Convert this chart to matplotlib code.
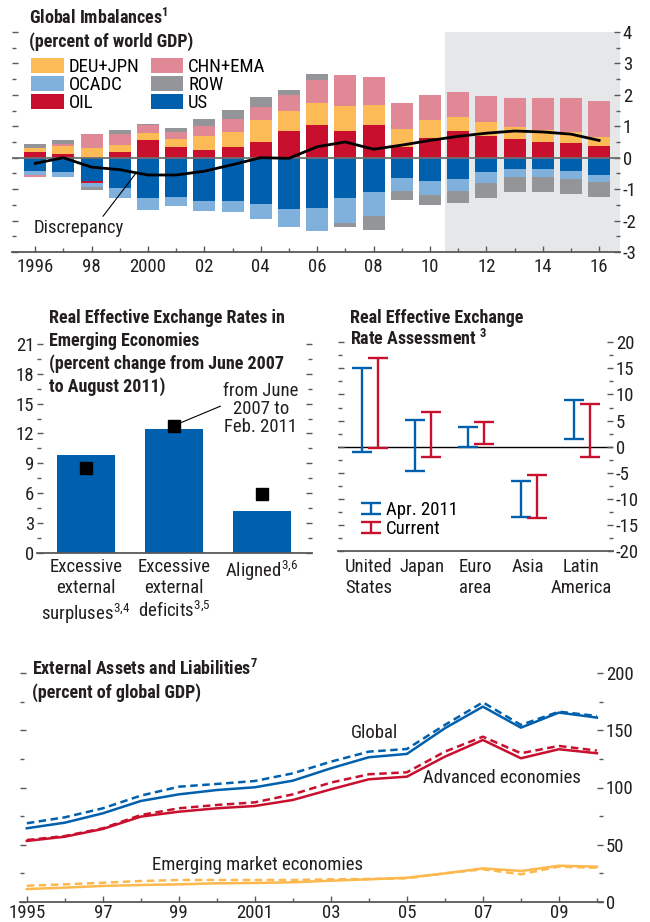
import numpy as np
import matplotlib
matplotlib.use("Agg")
import matplotlib.pyplot as plt
from matplotlib import font_manager
from matplotlib.container import ErrorbarContainer
from matplotlib.legend_handler import HandlerErrorbar
from matplotlib.ticker import MultipleLocator

# fuente: se busca una condensada, si no hay se usa Liberation Sans
available = {f.name for f in font_manager.fontManager.ttflist}
font = 'Liberation Sans'
fs, fs_title = 12, 11.4
for cand, a, b in [('Liberation Sans Narrow', 13.5, 13.5),
                   ('DejaVu Sans Condensed', 12, 11.5),
                   ('Roboto Condensed', 13.5, 13)]:
    if cand in available:
        font, fs, fs_title = cand, a, b
        break

plt.rcParams['font.family'] = [font, 'DejaVu Sans']
plt.rcParams['axes.unicode_minus'] = False
plt.rcParams['mathtext.fontset'] = 'custom'
plt.rcParams['mathtext.rm'] = font
plt.rcParams['mathtext.bf'] = font + ':bold'

# colores
c_us = '#0060ae'
c_ocadc = '#7fb1dc'
c_oil = '#c8102e'
c_deu = '#fdbb58'
c_chn = '#e08896'
c_row = '#939598'
c_orange = '#fdb94e'
c_shade = '#e6e7e8'
c_axis = '#58595b'
c_text = '#231f20'

# ---- Global imbalances (percent of world GDP) ----
years = list(range(1996, 2017))
year_ticks = [1996, 1998, 2000, 2002, 2004, 2006, 2008, 2010, 2012, 2014, 2016]
year_labels = ['1996', '98', '2000', '02', '04', '06', '08', '10', '12', '14', '16']
us = [-0.42, -0.47, -0.75, -0.97, -1.29, -1.26, -1.39, -1.39, -1.48, -1.64, -1.61,
      -1.29, -1.10, -0.66, -0.75, -0.69, -0.47, -0.37, -0.37, -0.43, -0.56]
oil = [0.17, 0.11, -0.06, 0.17, 0.55, 0.33, 0.23, 0.33, 0.49, 0.84, 1.03,
       0.84, 1.03, 0.33, 0.62, 0.84, 0.68, 0.58, 0.49, 0.46, 0.36]
ocadc = [-0.14, -0.13, -0.13, -0.32, -0.38, -0.29, -0.29, -0.35, -0.48, -0.57, -0.72,
         -0.80, -0.76, -0.41, -0.45, -0.38, -0.32, -0.25, -0.25, -0.25, -0.22]
deu_jpn = [0.13, 0.27, 0.30, 0.25, 0.25, 0.25, 0.45, 0.48, 0.70, 0.64, 0.70,
           0.80, 0.64, 0.57, 0.57, 0.45, 0.45, 0.41, 0.38, 0.35, 0.29]
chn_ema = [-0.06, 0.07, 0.45, 0.32, 0.25, 0.25, 0.32, 0.41, 0.41, 0.51, 0.73,
           0.99, 0.89, 0.83, 0.80, 0.80, 0.83, 0.92, 1.02, 1.08, 1.15]
row = [0.13, 0.11, -0.10, 0.13, 0.03, 0.13, 0.22, 0.29, 0.32, 0.16, 0.19,
       -0.10, -0.45, -0.29, -0.29, -0.38, -0.48, -0.48, -0.48, -0.48, -0.48]
discrepancy = [-0.18, 0.0, -0.30, -0.38, -0.55, -0.55, -0.43, -0.22, 0.0, -0.02, 0.35,
               0.50, 0.27, 0.40, 0.55, 0.68, 0.78, 0.85, 0.82, 0.75, 0.55]

# ---- REER in emerging economies ----
reer_groups = ['Excessive\nexternal\nsurpluses$^{3{,}4}$',
               'Excessive\nexternal\ndeficits$^{3{,}5}$',
               'Aligned$^{3{,}6}$']
reer_aug2011 = [9.86, 12.48, 4.23]
reer_feb2011 = [8.56, 12.75, 5.87]

# ---- REER assessment ----
regions = ['United\nStates', 'Japan', 'Euro\narea', 'Asia', 'Latin\nAmerica']
apr_low = [-1.0, -4.6, -0.1, -13.4, 1.5]
apr_high = [15.0, 5.1, 3.8, -6.6, 8.9]
cur_low = [-0.3, -1.9, 0.6, -13.7, -1.9]
cur_high = [16.9, 6.7, 4.8, -5.4, 8.1]

# ---- External assets and liabilities (percent of global GDP) ----
ea_years = list(range(1995, 2011))
ea_ticks = [1995, 1997, 1999, 2001, 2003, 2005, 2007, 2009]
ea_labels = ['1995', '97', '99', '2001', '03', '05', '07', '09']
global_solid = [64.3, 69.2, 77.4, 88.2, 94.0, 97.8, 100.2, 106.0, 116.8,
                126.5, 129.4, 151.9, 170.8, 152.4, 165.6, 161.2]
global_dashed = [68.7, 73.9, 81.8, 92.9, 100.7, 103.1, 105.7, 112.4, 122.6,
                 131.4, 133.7, 154.8, 174.6, 154.8, 166.4, 162.6]
adv_solid = [53.2, 56.9, 63.7, 74.5, 78.8, 81.8, 83.8, 89.1, 98.4,
             107.2, 109.5, 127.0, 141.6, 125.6, 133.5, 130.0]
adv_dashed = [54.0, 57.5, 64.3, 75.9, 81.8, 84.7, 87.0, 94.0, 104.3,
              111.6, 113.3, 131.4, 144.5, 130.0, 136.4, 132.3]
em_solid = [11.1, 12.3, 13.8, 14.6, 15.2, 16.1, 16.4, 17.0, 18.4,
            19.6, 21.0, 24.8, 29.2, 26.9, 31.5, 30.7]
em_dashed = [14.0, 15.2, 16.6, 18.1, 19.0, 19.0, 19.0, 19.0, 19.6,
             19.9, 20.5, 24.8, 28.4, 24.0, 30.7, 29.8]

W, H = 650, 922
fig = plt.figure(figsize=(W / 100, H / 100), dpi=100)


def box(left, top, right, bottom):
    # posicion de un eje en pixeles de la figura
    return [left / W, 1 - bottom / H, (right - left) / W, (bottom - top) / H]


def fig_text(x, y, s, **kw):
    fig.text(x / W, 1 - y / H, s, **kw)


def style(ax, labelleft=False, labelright=True):
    for s in ['left', 'right', 'top']:
        ax.spines[s].set_visible(False)
    ax.spines['bottom'].set_color(c_axis)
    ax.spines['bottom'].set_linewidth(1.3)
    ax.tick_params(axis='both', which='both', direction='in', color=c_axis,
                   labelcolor=c_text, labelsize=fs, width=1)
    ax.tick_params(axis='y', which='both', left=True, right=True,
                   labelleft=labelleft, labelright=labelright, pad=2)
    ax.tick_params(which='major', length=4.5)
    ax.tick_params(which='minor', length=3)
    ax.tick_params(axis='x', top=False, pad=4)


title_kw = dict(fontsize=fs_title, fontweight='bold', color=c_text, va='center', ha='left')

# ================= panel 1 =================
ax1 = fig.add_axes(box(12, 32, 620, 252))
ax1.set_xlim(1995.18, 2016.74)
ax1.set_ylim(-3, 4)
ax1.axvspan(2010.54, 2016.74, color=c_shade, lw=0, zorder=0)

stack = [(us, 'US', c_us), (oil, 'OIL', c_oil), (ocadc, 'OCADC', c_ocadc),
         (deu_jpn, 'DEU+JPN', c_deu), (chn_ema, 'CHN+EMA', c_chn), (row, 'ROW', c_row)]
pos = np.zeros(len(years))
neg = np.zeros(len(years))
bars = {}
for vals, name, col in stack:
    v = np.array(vals)
    base = np.where(v >= 0, pos, neg)
    bars[name] = ax1.bar(years, v, 0.78, bottom=base, color=col, lw=0, zorder=2)
    pos += np.clip(v, 0, None)
    neg += np.clip(v, None, 0)

ax1.axhline(0, color='#6d6e71', lw=1.3, zorder=3)
ax1.plot(years, discrepancy, color='black', lw=2, zorder=4)
ax1.annotate('Discrepancy', xy=(1999.55, -0.52), xytext=(1995.93, -2.24),
             fontsize=fs, color=c_text, va='center', ha='left',
             arrowprops=dict(arrowstyle='-', lw=0.8, color='black',
                             shrinkA=0, shrinkB=0, relpos=(0.75, 1.0)))

order = ['DEU+JPN', 'OCADC', 'OIL', 'CHN+EMA', 'ROW', 'US']
ax1.legend([bars[n] for n in order], order, ncol=2, loc='upper left',
           bbox_to_anchor=(31 / W, 1 - 58 / H), bbox_transform=fig.transFigure,
           frameon=False, fontsize=fs, handlelength=1.75, handleheight=0.85,
           handletextpad=0.25, columnspacing=0.6, labelspacing=0.0,
           borderpad=0, borderaxespad=0)

style(ax1)
ax1.set_xticks(year_ticks, year_labels)
ax1.xaxis.set_minor_locator(MultipleLocator(1))
ax1.yaxis.set_major_locator(MultipleLocator(1))
ax1.yaxis.set_minor_locator(MultipleLocator(0.5))

fig_text(29, 18, r'Global Imbalances$^{\mathbf{1}}$', **title_kw)
fig_text(29, 42, '(percent of world GDP)', **title_kw)

# ================= panel 2 =================
ax2 = fig.add_axes(box(37, 344, 312, 552.7))
x2 = np.arange(len(reer_groups))
ax2.bar(x2, reer_aug2011, 0.66, color=c_us, lw=0, zorder=2)
ax2.plot(x2, reer_feb2011, 's', color='black', ms=8, zorder=3)
ax2.set_xlim(-0.557, 2.57)
ax2.set_ylim(0, 21)
style(ax2, labelleft=True, labelright=False)
ax2.yaxis.set_major_locator(MultipleLocator(3))
ax2.yaxis.set_minor_locator(MultipleLocator(1.5))
ax2.set_xticks(x2, reer_groups)
ax2.tick_params(axis='x', length=0, pad=4)
ax2.annotate('from June\n2007 to\nFeb. 2011', xy=(x2[1] + 0.07, reer_feb2011[1] + 0.3),
             xytext=(1.99, 17.2), fontsize=fs, color=c_text, ha='center', va='top',
             linespacing=1.0,
             arrowprops=dict(arrowstyle='-', lw=0.8, color='black',
                             shrinkA=0, shrinkB=0, relpos=(0.0, 0.57)))

for i, line in enumerate(['Real Effective Exchange Rates in', 'Emerging Economies',
                          '(percent change from June 2007', 'to August 2011)']):
    fig_text(49, 318 + i * 23, line, **title_kw)

# ================= panel 3 =================
ax3 = fig.add_axes(box(338, 342.3, 613, 551))
x3 = np.arange(len(regions))
ax3.axhline(0, color='black', lw=1, zorder=1)
for lo, hi, col, off, lab in [(apr_low, apr_high, c_us, -0.13, 'Apr. 2011'),
                              (cur_low, cur_high, c_oil, 0.17, 'Current')]:
    lo = np.array(lo)
    hi = np.array(hi)
    ax3.errorbar(x3 + off, (lo + hi) / 2, yerr=(hi - lo) / 2, fmt='none',
                 ecolor=col, elinewidth=1.7, capsize=7.2, capthick=1.7,
                 zorder=3, label=lab)
ax3.set_xlim(-0.585, 4.6)
ax3.set_ylim(-20, 20)
style(ax3)
ax3.yaxis.set_major_locator(MultipleLocator(5))
ax3.yaxis.set_minor_locator(MultipleLocator(2.5))
ax3.set_xticks(x3, regions)
ax3.tick_params(axis='x', length=0, pad=5)
ax3.legend(loc='upper left', bbox_to_anchor=(360 / W, 1 - 501 / H),
           bbox_transform=fig.transFigure, frameon=False, fontsize=fs,
           handlelength=1.2, handletextpad=0.2, labelspacing=0.05,
           borderpad=0, borderaxespad=0,
           handler_map={ErrorbarContainer: HandlerErrorbar(xerr_size=0.5, yerr_size=0.3)})

fig_text(350, 318, 'Real Effective Exchange', **title_kw)
fig_text(350, 339, r'Rate Assessment $^{\mathbf{3}}$', **title_kw)

# ================= panel 4 =================
ax4 = fig.add_axes(box(20, 673.3, 603, 901.7))
for solid, dashed, col in [(em_solid, em_dashed, c_orange),
                           (adv_solid, adv_dashed, c_oil),
                           (global_solid, global_dashed, c_us)]:
    ax4.plot(ea_years, solid, color=col, lw=1.8, zorder=2)
    ax4.plot(ea_years, dashed, color=col, lw=1.8, dashes=(3, 1.8), zorder=3)
ax4.set_xlim(1994.82, 2010.16)
ax4.set_ylim(0, 200)
style(ax4)
ax4.set_xticks(ea_ticks, ea_labels)
ax4.xaxis.set_minor_locator(MultipleLocator(1))
ax4.yaxis.set_major_locator(MultipleLocator(50))
ax4.yaxis.set_minor_locator(MultipleLocator(25))
ax4.tick_params(axis='x', pad=2)

lab_kw = dict(fontsize=fs, color=c_text, ha='center', va='center')
ax4.text(2004.16, 147.4, 'Global', **lab_kw)
ax4.text(2007.5, 108.2, 'Advanced economies', **lab_kw)
ax4.text(2001.08, 32.2, 'Emerging market economies', **lab_kw)

fig_text(32, 669, r'External Assets and Liabilities$^{\mathbf{7}}$', **title_kw)
fig_text(32, 693, '(percent of global GDP)', **title_kw)

fig.savefig('out.png', dpi=100)
